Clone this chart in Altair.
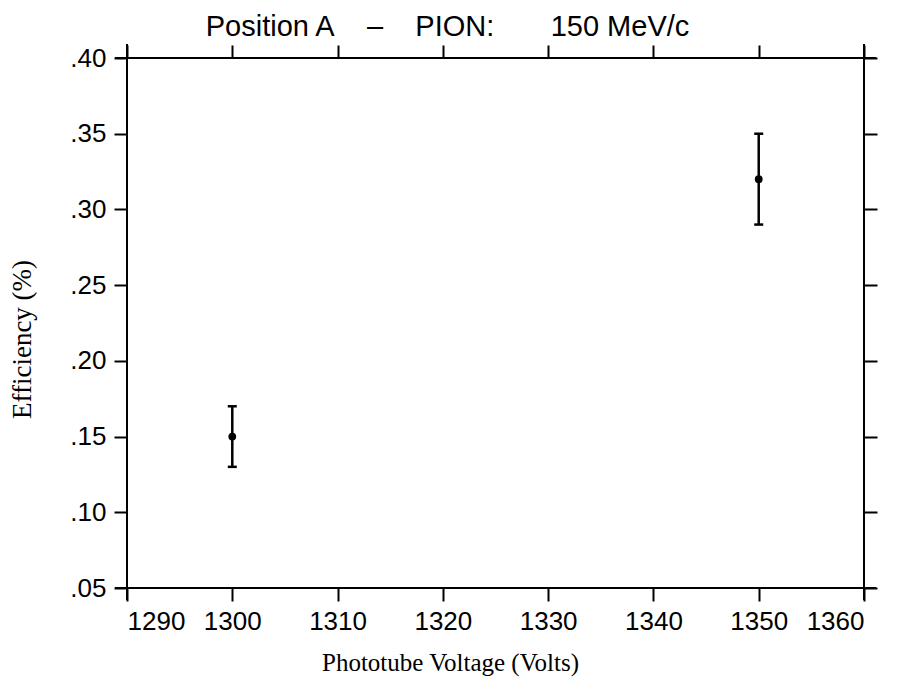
import altair as alt
import pandas as pd

voltage = [1300, 1350]
efficiency = [0.15, 0.32]
eff_low = [0.13, 0.29]
eff_high = [0.17, 0.35]

x_ticks = [1290, 1300, 1310, 1320, 1330, 1340, 1350, 1360]
y_ticks = [0.05, 0.10, 0.15, 0.20, 0.25, 0.30, 0.35, 0.40]

df = pd.DataFrame({"v": voltage, "e": efficiency, "lo": eff_low, "hi": eff_high})

W, H = 737, 530
SANS = "Liberation Sans"
SERIF = "Liberation Serif"

xscale = alt.Scale(domain=[1290, 1360], nice=False, zero=False)
yscale = alt.Scale(domain=[0.05, 0.40], nice=False, zero=False)

ylabel = "replace(format(datum.value, '.2f'), '0.', '.')"

common_axis = dict(domain=False, grid=False, ticks=True, tickSize=13, tickWidth=2,
                   tickColor="black", labelColor="black", labelFont=SANS,
                   labelFontSize=26, titleColor="black", titleFont=SERIF,
                   titleFontWeight="normal")

base = alt.Chart(df)

points = base.mark_point(filled=True, size=60, color="black", opacity=1).encode(
    x=alt.X("v:Q", scale=xscale,
            axis=alt.Axis(orient="bottom", values=x_ticks, format="d",
                          title="Phototube Voltage (Volts)", labelPadding=7,
                          titleFontSize=25,
                          titleX=323, titleY=74, titleBaseline="middle",
                          **common_axis)),
    y=alt.Y("e:Q", scale=yscale,
            axis=alt.Axis(orient="left", values=y_ticks, labelExpr=ylabel,
                          title="Efficiency (%)", labelPadding=8,
                          titleFontSize=27,
                          titleX=-105, titleY=281, titleBaseline="middle",
                          **common_axis)),
)

bars = base.mark_rule(color="black", strokeWidth=2.5).encode(
    x=alt.X("v:Q", scale=xscale,
            axis=alt.Axis(orient="top", values=x_ticks, labels=False, title=None,
                          **common_axis)),
    y=alt.Y("lo:Q", scale=yscale,
            axis=alt.Axis(orient="right", values=y_ticks, labels=False, title=None,
                          **common_axis)),
    y2="hi:Q",
)

cap_lo = base.mark_tick(orient="horizontal", size=9, thickness=2.5, color="black", opacity=1).encode(
    x=alt.X("v:Q", scale=xscale, axis=None),
    y=alt.Y("lo:Q", scale=yscale, axis=None),
)
cap_hi = base.mark_tick(orient="horizontal", size=9, thickness=2.5, color="black", opacity=1).encode(
    x=alt.X("v:Q", scale=xscale, axis=None),
    y=alt.Y("hi:Q", scale=yscale, axis=None),
)

frame_data = alt.Data(values=[{"k": 0}])
EXT = 12
frame = [
    alt.Chart(frame_data).mark_rule(color="black", strokeWidth=2).encode(
        x=alt.value(-EXT), x2=alt.value(W + EXT), y=alt.value(0)),
    alt.Chart(frame_data).mark_rule(color="black", strokeWidth=2).encode(
        x=alt.value(-EXT), x2=alt.value(W + EXT), y=alt.value(H)),
    alt.Chart(frame_data).mark_rule(color="black", strokeWidth=2).encode(
        x=alt.value(0), y=alt.value(-EXT - 2), y2=alt.value(H + EXT)),
    alt.Chart(frame_data).mark_rule(color="black", strokeWidth=2).encode(
        x=alt.value(W), y=alt.value(-EXT - 2), y2=alt.value(H + EXT)),
]

NB = "\u00a0"
title_text = f"Position A{NB*4}\u2013{NB*4}PION:{NB*7}150{NB}MeV/c"

chart = alt.layer(points, bars, cap_lo, cap_hi, *frame).resolve_axis(
    x="independent", y="independent"
).properties(
    width=W, height=H,
    autosize=alt.AutoSizeParams(type="none"),
    padding={"left": 119, "top": 50, "right": 30, "bottom": 90},
    title=alt.TitleParams(
        title_text,
        font=SANS, fontSize=29, fontWeight="normal", color="black",
        anchor="middle", dx=-48, offset=1,
    ),
).configure_view(stroke=None).configure(background="white")

chart.save("out.html", embed_options={"renderer": "svg", "actions": False})
